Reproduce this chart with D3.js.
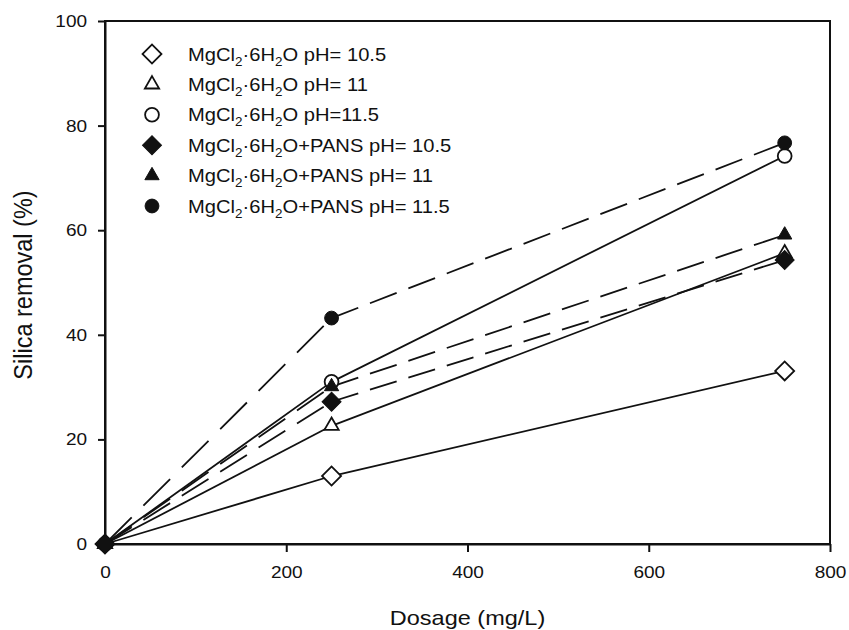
<!DOCTYPE html>
<html>
<head>
<meta charset="utf-8">
<script src="https://cdn.jsdelivr.net/npm/d3@7"></script>
<style>
  html, body { margin: 0; padding: 0; background: #fff; }
  svg { display: block; }
  text { font-family: "Liberation Sans", Arial, sans-serif; fill: #111; }
</style>
</head>
<body>
<svg id="chart" width="849" height="630"></svg>
<script>
// Dosage levels (mg/L)
const dosage = [0, 250, 750];

// Silica removal (%) for each treatment
const mgPh105     = [0, 13.0, 33.1];
const mgPh11      = [0, 22.6, 55.6];
const mgPh115     = [0, 31.0, 74.2];
const pansPh105   = [0, 27.2, 54.3];
const pansPh11    = [0, 30.1, 59.1];
const pansPh115   = [0, 43.2, 76.7];

// Legend text pieces
const seriesPh  = ["pH= 10.5", "pH= 11", "pH=11.5", "pH= 10.5", "pH= 11", "pH= 11.5"];
const seriesAdd = ["", "", "", "+PANS", "+PANS", "+PANS"];

const xTicks = [0, 200, 400, 600, 800];
const yTicks = [0, 20, 40, 60, 80, 100];

const xTitle = "Dosage (mg/L)";
const yTitle = "Silica removal (%)";

const series = [
  { values: mgPh105,   shape: "diamond",  filled: false, dashed: false },
  { values: mgPh11,    shape: "triangle", filled: false, dashed: false },
  { values: mgPh115,   shape: "circle",   filled: false, dashed: false },
  { values: pansPh105, shape: "diamond",  filled: true,  dashed: true },
  { values: pansPh11,  shape: "triangle", filled: true,  dashed: true },
  { values: pansPh115, shape: "circle",   filled: true,  dashed: true }
];
series.forEach((s, i) => { s.ph = seriesPh[i]; s.add = seriesAdd[i]; });

const svg = d3.select("#chart");
const plotL = 105, plotR = 830, plotT = 21, plotB = 544;
const stretch = 1.12;

const x = d3.scaleLinear().domain([0, 800]).range([plotL, plotR]);
const y = d3.scaleLinear().domain([0, 100]).range([plotB, plotT]);

// Frame
svg.append("rect")
  .attr("x", plotL).attr("y", plotT)
  .attr("width", plotR - plotL).attr("height", plotB - plotT)
  .attr("fill", "none").attr("stroke", "#111").attr("stroke-width", 2);

// Axes
const xAxis = svg.append("g")
  .attr("transform", `translate(0,${plotB})`)
  .call(d3.axisBottom(x).tickValues(xTicks).tickSize(8).tickPadding(14).tickSizeOuter(0));
const yAxis = svg.append("g")
  .attr("transform", `translate(${plotL},0)`)
  .call(d3.axisLeft(y).tickValues(yTicks).tickSize(7).tickPadding(9).tickSizeOuter(0));

[xAxis, yAxis].forEach(g => {
  g.select(".domain").attr("stroke", "#111").attr("stroke-width", 2);
  g.selectAll(".tick line").attr("stroke", "#111").attr("stroke-width", 2);
  g.selectAll(".tick text")
    .attr("font-family", "Liberation Sans, Arial, sans-serif")
    .attr("font-size", 17).attr("fill", "#111")
    .attr("transform", `scale(${stretch},1)`);
});

// Axis titles
svg.append("text")
  .attr("transform", `translate(${(plotL + plotR) / 2},625) scale(${stretch},1)`)
  .attr("text-anchor", "middle").attr("font-size", 21)
  .text(xTitle);
svg.append("text")
  .attr("transform", `translate(32,285) scale(${stretch},1) rotate(-90)`)
  .attr("text-anchor", "middle").attr("font-size", 23.5)
  .text(yTitle);

// Dash pattern is measured along the x direction: dash/gap widths in px of x travel
const dashDx = 26.7, gapDx = 11.7;

function symbolPath(shape) {
  if (shape === "diamond") return d3.symbol(d3.symbolSquare, 180)();
  if (shape === "triangle") return d3.symbol(d3.symbolTriangle, 88)();
  return d3.symbol(d3.symbolCircle, 150)();
}
function symbolRotate(shape) { return shape === "diamond" ? 45 : 0; }

const lineLayer = svg.append("g");
const markLayer = svg.append("g");

series.forEach(s => {
  const pts = dosage.map((d, i) => [x(d), y(s.values[i])]);
  for (let i = 0; i < pts.length - 1; i++) {
    const [x0, y0] = pts[i], [x1, y1] = pts[i + 1];
    const len = Math.hypot(x1 - x0, y1 - y0);
    const k = len / (x1 - x0);
    const seg = lineLayer.append("path")
      .attr("d", d3.line()([pts[i], pts[i + 1]]))
      .attr("fill", "none").attr("stroke", "#111").attr("stroke-width", 1.8);
    if (s.dashed) seg.attr("stroke-dasharray", `${dashDx * k} ${gapDx * k}`);
  }
});

series.forEach(s => {
  markLayer.append("g").selectAll("path")
    .data(dosage.map((d, i) => [d, s.values[i]]))
    .join("path")
    .attr("d", symbolPath(s.shape))
    .attr("transform", d => `translate(${x(d[0])},${y(d[1])}) rotate(${symbolRotate(s.shape)})`)
    .attr("fill", s.filled ? "#111" : "#fff")
    .attr("stroke", "#111").attr("stroke-width", s.filled ? 1 : 1.8);
});

// Legend
const legend = svg.append("g");
const legX = 152, legTextX = 188, legY0 = 54, legDy = 30.4;
series.forEach((s, i) => {
  const cy = legY0 + i * legDy;
  legend.append("path")
    .attr("d", symbolPath(s.shape))
    .attr("transform", `translate(${legX},${cy}) rotate(${symbolRotate(s.shape)})`)
    .attr("fill", s.filled ? "#111" : "#fff")
    .attr("stroke", "#111").attr("stroke-width", s.filled ? 1 : 1.8);
  const t = legend.append("text")
    .attr("transform", `translate(${legTextX},${cy + 6.5}) scale(${stretch},1)`)
    .attr("font-size", 18);
  t.append("tspan").text("MgCl");
  t.append("tspan").attr("font-size", 12).attr("dy", 5).text("2");
  t.append("tspan").attr("dy", -5).text("\u00B76H");
  t.append("tspan").attr("font-size", 12).attr("dy", 5).text("2");
  t.append("tspan").attr("dy", -5).text("O" + s.add + " " + s.ph);
});
</script>
</body>
</html>
